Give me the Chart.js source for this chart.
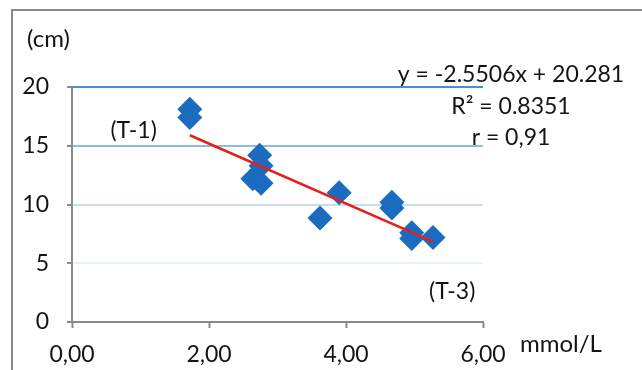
<!DOCTYPE html>
<html lang="pt-br">
<head>
    <meta charset="UTF-8">
    <title>Regressão</title>
    <script src="https://cdn.jsdelivr.net/npm/chart.js"></script>
    <style>
        html, body { margin: 0; padding: 0; background: #fff; overflow: hidden; }
        #moldura {
            position: absolute; left: 11px; top: 9px;
            width: 700px; height: 420px;
            border: 2px solid #8a8a8a;
        }
        #wrap { position: absolute; left: 0; top: 0; width: 642px; height: 370px; }
    </style>
</head>
<body>
    <div id="moldura"></div>
    <div id="wrap">
        <canvas id="grafico" width="642" height="370"></canvas>
    </div>

<script>
    // dados
    const xVals = [1.72, 1.72, 2.74, 2.76, 2.64, 2.76, 3.62, 3.90, 4.67, 4.67, 4.96, 4.96, 5.27];
    const yVals = [18.1, 17.4, 14.2, 13.3, 12.2, 11.8, 8.85, 11.0, 10.2, 9.7, 7.6, 7.1, 7.2];
    const slope = -2.5506;
    const intercept = 20.281;
    const textoEq = ['y = -2.5506x + 20.281', 'R\u00b2 = 0.8351', 'r = 0,91'];
    const rotulos = [
        { texto: '(T-1)', x: 0.9, y: 16.3 },
        { texto: '(T-3)', x: 5.55, y: 2.6 }
    ];

    const pontos = xVals.map((x, i) => ({ x: x, y: yVals[i] }));
    const xMin = Math.min(...xVals), xMax = Math.max(...xVals);
    const linha = [
        { x: xMin, y: slope * xMin + intercept },
        { x: xMax, y: slope * xMax + intercept }
    ];

    const fonte = 'Lato, "Noto Sans", sans-serif';
    const corTexto = '#141414';

    // textos extras: (cm), mmol/L, equação e rótulos T-1/T-3
    const textosExtras = {
        id: 'textosExtras',
        afterDraw(chart) {
            const ctx = chart.ctx;
            const sx = chart.scales.x, sy = chart.scales.y;
            ctx.save();
            ctx.fillStyle = corTexto;
            ctx.font = '24px ' + fonte;
            ctx.textBaseline = 'middle';
            ctx.textAlign = 'left';
            ctx.fillText('(cm)', 27, 39);
            ctx.fillText('mmol/L', 520, 344);
            ctx.font = '23px ' + fonte;
            ctx.textAlign = 'center';
            textoEq.forEach((t, i) => ctx.fillText(t, 511, 75 + i * 31.5));
            rotulos.forEach(r => {
                ctx.fillText(r.texto, sx.getPixelForValue(r.x), sy.getPixelForValue(r.y));
            });
            ctx.restore();
        }
    };

    const coresGrade = { 20: '#4a8fd0', 15: '#8dbbe6', 10: '#c4def2', 5: '#e6f1fa', 0: 'rgba(0,0,0,0)' };

    new Chart(document.getElementById('grafico'), {
        type: 'scatter',
        data: {
            datasets: [
                {
                    label: 'dados',
                    data: pontos,
                    pointStyle: 'rectRot',
                    pointRadius: 12.5,
                    pointHoverRadius: 12.5,
                    backgroundColor: '#1b6cc1',
                    borderColor: '#1b6cc1',
                    borderWidth: 0,
                    order: 2
                },
                {
                    label: 'tendência',
                    type: 'line',
                    data: linha,
                    borderColor: '#e5201c',
                    borderWidth: 2.5,
                    pointRadius: 0,
                    fill: false,
                    order: 1
                }
            ]
        },
        options: {
            responsive: false,
            animation: false,
            devicePixelRatio: 1,
            layout: { padding: { top: 87, right: 159, bottom: 0, left: 0 } },
            plugins: {
                legend: { display: false },
                tooltip: { enabled: false }
            },
            scales: {
                x: {
                    type: 'linear',
                    min: 0, max: 6,
                    afterFit: s => { s.height = 48; },
                    border: { color: '#8a8a8a', width: 2 },
                    grid: { drawOnChartArea: false, drawTicks: true, tickLength: 6, tickColor: '#8a8a8a', tickWidth: 2 },
                    ticks: {
                        stepSize: 2,
                        color: corTexto,
                        font: { family: fonte, size: 23 },
                        padding: 13,
                        maxRotation: 0,
                        callback: v => v.toFixed(2).replace('.', ',')
                    }
                },
                y: {
                    min: 0, max: 20,
                    afterFit: s => { s.width = 72; },
                    border: { color: '#8a8a8a', width: 2 },
                    grid: {
                        color: c => coresGrade[c.tick.value] || 'rgba(0,0,0,0)',
                        lineWidth: 2,
                        drawTicks: true,
                        tickLength: 5,
                        tickColor: '#8a8a8a'
                    },
                    ticks: {
                        stepSize: 5,
                        color: corTexto,
                        font: { family: fonte, size: 23 },
                        padding: 18
                    }
                }
            }
        },
        plugins: [textosExtras]
    });
</script>
</body>
</html>
